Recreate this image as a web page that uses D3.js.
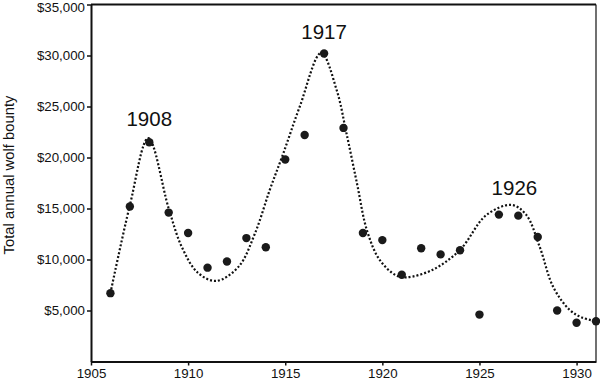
<!DOCTYPE html>
<html>
<head>
<meta charset="utf-8">
<script src="https://cdn.jsdelivr.net/npm/d3@7"></script>
<style>
  body { margin: 0; background: #fff; }
  svg text { font-family: "Liberation Sans", Arial, sans-serif; fill: #111; }
</style>
</head>
<body>
<svg id="chart" width="600" height="381"></svg>
<script>
/* observed bounty totals per year */
const years = [1906, 1907, 1908, 1909, 1910, 1911, 1912, 1913, 1914, 1915, 1916, 1917, 1918,
  1919, 1920, 1921, 1922, 1923, 1924, 1925, 1926, 1927, 1928, 1929, 1930, 1931];
const bounty = [6700, 15200, 21500, 14600, 12600, 9200, 9800, 12100, 11200, 19800, 22200, 30200, 22900,
  12600, 11900, 8500, 11100, 10500, 10900, 4600, 14400, 14300, 12200, 5000, 3800, 3950];

/* smoothed trend (dotted line) */
const trendYears = [1906, 1907, 1907.95, 1909, 1909.67, 1910.5, 1911.45, 1912.6, 1913.45, 1914.2,
  1914.9, 1915.75, 1916.85, 1917.65, 1918.15, 1918.7, 1919.2, 1919.85, 1920.7, 1921.25, 1922.6,
  1924, 1925.35, 1926.65, 1927.4, 1928.1, 1928.8, 1929.65, 1930.3, 1931];
const trendValues = [6700, 15300, 21900, 15000, 11250, 8700, 7900, 9300, 12600, 16800,
  20400, 25000, 30250, 26600, 22400, 17400, 12900, 10000, 8450, 8250, 9000,
  10950, 14350, 15350, 14400, 11250, 7300, 5050, 4300, 3950];

/* peak labels */
const peakLabels = ["1908", "1917", "1926"];
const peakYears = [1908, 1917, 1926.8];
const peakValues = [23100, 31600, 16300];

const xTicks = [1905, 1910, 1915, 1920, 1925, 1930];
const yTicks = [5000, 10000, 15000, 20000, 25000, 30000, 35000];

const svg = d3.select("#chart");
const x = d3.scaleLinear().domain([1905, 1931]).range([91, 596]);
const y = d3.scaleLinear().domain([0, 35000]).range([361.5, 4.5]);

/* frame */
svg.append("line").attr("x1", 91).attr("x2", 596).attr("y1", y(35000)).attr("y2", y(35000))
  .attr("stroke", "#111").attr("stroke-width", 2);
svg.append("line").attr("x1", 596).attr("x2", 596).attr("y1", y(35000)).attr("y2", y(0))
  .attr("stroke", "#111").attr("stroke-width", 1.2);

/* axes */
const xAxis = svg.append("g")
  .attr("transform", `translate(0,${y(0)})`)
  .call(d3.axisBottom(x).tickValues(xTicks).tickFormat(d3.format("d")).tickSize(4).tickSizeOuter(0));
const yAxis = svg.append("g")
  .attr("transform", `translate(${x(1905)},0)`)
  .call(d3.axisLeft(y).tickValues(yTicks).tickFormat(d3.format("$,")).tickSize(4).tickSizeOuter(0));

[xAxis, yAxis].forEach((g) => {
  g.select(".domain").attr("stroke", "#111").attr("stroke-width", 2);
  g.selectAll(".tick line").attr("stroke", "#111").attr("stroke-width", 1.5);
  g.selectAll("text").attr("font-size", 13.3).attr("fill", "#111")
    .style("font-family", "'Liberation Sans', Arial, sans-serif");
});
xAxis.selectAll("text").attr("dy", "0.72em");
yAxis.selectAll("text").attr("x", -6);
yAxis.selectAll(".tick").filter((d) => d === 35000).select("text").attr("dy", "0.5em");

/* axis title */
svg.append("text")
  .attr("transform", "translate(14,175) rotate(-90)")
  .attr("text-anchor", "middle")
  .attr("font-size", 14.8)
  .text("Total annual wolf bounty");

/* trend line */
const trend = trendYears.map((yr, i) => [yr, trendValues[i]]);
svg.append("path")
  .datum(trend)
  .attr("fill", "none")
  .attr("stroke", "#111")
  .attr("stroke-width", 2.2)
  .attr("stroke-dasharray", "2 2")
  .attr("d", d3.line().x((d) => x(d[0])).y((d) => y(d[1])).curve(d3.curveCatmullRom.alpha(0.5)));

/* points */
svg.append("g")
  .selectAll("circle")
  .data(years.map((yr, i) => [yr, bounty[i]]))
  .enter()
  .append("circle")
  .attr("cx", (d) => x(d[0]))
  .attr("cy", (d) => y(d[1]))
  .attr("r", 4.2)
  .attr("fill", "#1a1a1a");

/* peak labels */
svg.append("g")
  .selectAll("text")
  .data(peakLabels)
  .enter()
  .append("text")
  .attr("x", (d, i) => x(peakYears[i]))
  .attr("y", (d, i) => y(peakValues[i]))
  .attr("text-anchor", "middle")
  .attr("font-size", 20.5)
  .text((d) => d);
</script>
</body>
</html>
